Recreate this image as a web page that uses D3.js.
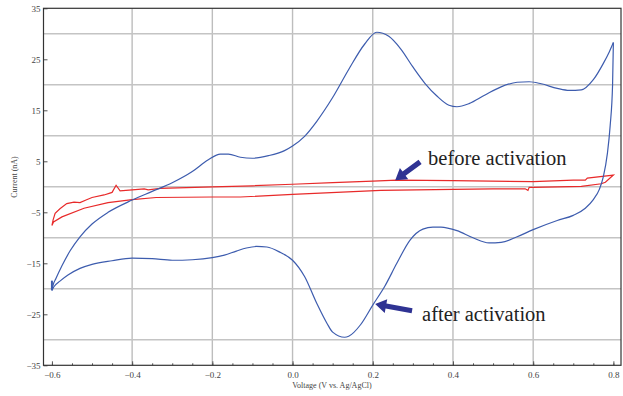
<!DOCTYPE html>
<meta charset="utf-8">
<script src="https://cdn.jsdelivr.net/npm/d3@7"></script>
<style>
    body { margin: 0; background: #fff; }
    text { font-family: "Liberation Serif", "DejaVu Serif", serif; }
</style>
<div id="chart"></div>
<script>
    // after activation (blue): forward scan -0.6 -> 0.8
    var blueFwdV = [-0.6, -0.598, -0.59, -0.575, -0.555, -0.53, -0.5, -0.46, -0.4, -0.35, -0.3, -0.25, -0.21, -0.18, -0.16, -0.13, -0.1, -0.06, -0.02, 0.0, 0.03, 0.06, 0.1, 0.14, 0.18, 0.21, 0.24, 0.27, 0.3, 0.33, 0.36, 0.39, 0.41, 0.44, 0.48, 0.52, 0.56, 0.59, 0.62, 0.66, 0.69, 0.72, 0.75, 0.775, 0.79, 0.8];
    var blueFwdI = [-20.3, -19.5, -18.0, -15.5, -12.6, -9.8, -7.3, -5.0, -2.6, -0.9, 0.8, 3.0, 5.3, 6.4, 6.4, 5.8, 5.6, 6.1, 7.1, 8.0, 9.9, 12.8, 17.5, 23.0, 28.0, 30.3, 29.5, 27.0, 23.5, 20.3, 17.8, 16.0, 15.7, 16.3, 18.0, 19.6, 20.5, 20.6, 20.2, 19.3, 18.9, 19.0, 21.0, 24.2, 26.5, 28.3];
    // after activation (blue): reverse scan 0.8 -> -0.6
    var blueRevV = [0.8, 0.798, 0.792, 0.785, 0.775, 0.765, 0.75, 0.73, 0.7, 0.66, 0.6, 0.56, 0.52, 0.49, 0.45, 0.41, 0.37, 0.35, 0.325, 0.293, 0.26, 0.23, 0.2, 0.17, 0.14, 0.13, 0.1, 0.086, 0.06, 0.03, 0.0, -0.03, -0.064, -0.09, -0.115, -0.14, -0.17, -0.2, -0.25, -0.3, -0.35, -0.4, -0.45, -0.5, -0.53, -0.56, -0.58, -0.595, -0.6];
    var blueRevI = [28.3, 20.0, 12.0, 6.5, 2.0, -0.5, -2.5, -4.2, -5.6, -6.6, -8.4, -9.8, -10.9, -11.0, -10.0, -8.6, -7.9, -7.9, -8.3, -10.45, -15.0, -19.5, -23.2, -27.0, -29.3, -29.5, -28.5, -26.8, -22.8, -17.6, -14.4, -12.9, -11.8, -11.7, -12.0, -12.6, -13.4, -13.9, -14.3, -14.4, -14.1, -14.0, -14.5, -15.2, -16.0, -17.3, -18.5, -19.6, -20.3];
    // small vertical step where the scan closes at -0.6 V
    var blueEndV = [-0.6, -0.6];
    var blueEndI = [-20.3, -18.4];

    // before activation (red)
    var redV = [-0.6, -0.597, -0.592, -0.58, -0.563, -0.545, -0.53, -0.515, -0.5, -0.47, -0.45, -0.44, -0.43, -0.4, -0.37, -0.36, -0.33, -0.2, -0.1, 0.0, 0.1, 0.2, 0.26, 0.4, 0.6, 0.7, 0.73, 0.735, 0.8,
        0.78, 0.77, 0.72, 0.6, 0.59, 0.587, 0.58, 0.5, 0.4, 0.22, 0.0, -0.13, -0.2, -0.34, -0.4, -0.46, -0.52, -0.575, -0.596, -0.6];
    var redI = [-7.6, -6.5, -5.2, -4.3, -3.3, -3.0, -3.1, -2.6, -2.1, -1.6, -1.1, 0.3, -0.8, -0.6, -0.4, -0.6, -0.3, 0.0, 0.2, 0.5, 0.8, 1.1, 1.3, 1.2, 1.0, 1.3, 1.3, 1.7, 2.3,
        0.9, 0.6, 0.1, -0.1, -0.1, -0.7, -0.4, -0.4, -0.5, -0.7, -1.5, -2.0, -2.0, -2.1, -2.5, -3.1, -4.2, -5.9, -6.9, -7.6];

    var xTicks = [-0.6, -0.4, -0.2, 0.0, 0.2, 0.4, 0.6, 0.8];
    var xMinor = d3.range(-0.6, 0.801, 0.05);
    var yTicks = [-35, -25, -15, -5, 5, 15, 25, 35];
    var xGrid = [-0.4, -0.2, 0.0, 0.2, 0.4, 0.6];
    var yGrid = [-30, -20, -10, 0, 10, 20, 30];

    var W = 623, H = 396;

    var x = d3.scaleLinear().domain([-0.621, 0.819]).range([43.5, 621]);
    var y = d3.scaleLinear().domain([-35, 35]).range([365.3, 8.3]);

    var svg = d3.select("#chart").append("svg")
        .attr("width", W)
        .attr("height", H);

    // grid
    svg.append("g").selectAll("line").data(xGrid).enter().append("line")
        .attr("x1", d => x(d)).attr("x2", d => x(d))
        .attr("y1", y(35)).attr("y2", y(-35))
        .attr("stroke", "#bdbdbd").attr("stroke-width", 1.4);
    svg.append("g").selectAll("line").data(yGrid).enter().append("line")
        .attr("x1", x.range()[0]).attr("x2", x.range()[1])
        .attr("y1", d => y(d)).attr("y2", d => y(d))
        .attr("stroke", "#c4c4c4").attr("stroke-width", 1.4);

    // curves
    var zip = (a, b) => a.map((v, i) => [v, b[i]]);
    var line = d3.line()
        .x(d => x(d[0]))
        .y(d => y(d[1]));

    svg.append("path")
        .datum(zip(redV, redI))
        .attr("d", line.curve(d3.curveLinear))
        .attr("fill", "none")
        .attr("stroke", "#e82a2a")
        .attr("stroke-width", 1.2);

    [zip(blueFwdV, blueFwdI), zip(blueRevV, blueRevI)].forEach(function(pts) {
        svg.append("path")
            .datum(pts)
            .attr("d", line.curve(d3.curveMonotoneX))
            .attr("fill", "none")
            .attr("stroke", "#3d5cae")
            .attr("stroke-width", 1.2);
    });
    svg.append("path")
        .datum(zip(blueEndV, blueEndI))
        .attr("d", line.curve(d3.curveLinear))
        .attr("fill", "none")
        .attr("stroke", "#3d5cae")
        .attr("stroke-width", 2);

    // axes
    var gx = svg.append("g")
        .attr("transform", "translate(0," + y(-35) + ")")
        .call(d3.axisBottom(x).tickValues(xMinor).tickSize(-2).tickFormat(""));
    gx.select(".domain").remove();
    gx.selectAll("line").attr("stroke", "#555");

    var gx2 = svg.append("g")
        .attr("transform", "translate(0," + y(-35) + ")")
        .call(d3.axisBottom(x).tickValues(xTicks).tickSize(-4).tickPadding(6)
            .tickFormat(d3.format(".1f")));
    gx2.select(".domain").remove();
    gx2.selectAll("line").attr("stroke", "#555");
    gx2.selectAll("text").attr("font-size", 9).attr("fill", "#444")
        .attr("font-family", "Liberation Serif");

    var gy = svg.append("g")
        .attr("transform", "translate(" + x.range()[0] + ",0)")
        .call(d3.axisLeft(y).tickValues(yTicks).tickSize(-4).tickPadding(3)
            .tickFormat(d3.format("d")));
    gy.select(".domain").remove();
    gy.selectAll("line").attr("stroke", "#555");
    gy.selectAll("text").attr("font-size", 9).attr("fill", "#444")
        .attr("font-family", "Liberation Serif");

    // frame
    svg.append("rect")
        .attr("x", x.range()[0]).attr("y", y(35))
        .attr("width", x.range()[1] - x.range()[0])
        .attr("height", y(-35) - y(35))
        .attr("fill", "none")
        .attr("stroke", "#333")
        .attr("stroke-width", 1.2);

    // axis titles
    svg.append("text")
        .attr("x", 332).attr("y", 388)
        .attr("text-anchor", "middle")
        .attr("font-size", 8).attr("fill", "#444")
        .text("Voltage (V vs. Ag/AgCl)");
    svg.append("text")
        .attr("transform", "translate(17,177) rotate(-90)")
        .attr("text-anchor", "middle")
        .attr("font-size", 8).attr("fill", "#444")
        .text("Current (nA)");

    // annotations
    function arrow(x0, y0, x1, y1) {
        var dx = x1 - x0, dy = y1 - y0, len = Math.sqrt(dx * dx + dy * dy);
        var ux = dx / len, uy = dy / len, px = -uy, py = ux;
        var hl = 11, hw = 7, sw = 2.6;
        var bx = x1 - ux * hl, by = y1 - uy * hl;
        var pts = [
            [x0 + px * sw, y0 + py * sw],
            [bx + px * sw, by + py * sw],
            [bx + px * hw, by + py * hw],
            [x1, y1],
            [bx - px * hw, by - py * hw],
            [bx - px * sw, by - py * sw],
            [x0 - px * sw, y0 - py * sw]
        ];
        svg.append("path")
            .attr("d", "M" + pts.map(p => p.join(",")).join("L") + "Z")
            .attr("fill", "#2f3393");
    }
    arrow(x(0.318), y(4.9), x(0.256), y(1.3));
    arrow(x(0.298), y(-24.3), x(0.206), y(-23.0));

    svg.append("text")
        .attr("x", x(0.338)).attr("y", y(4.25))
        .attr("font-size", 20.5).attr("fill", "#222")
        .text("before activation");
    svg.append("text")
        .attr("x", x(0.323)).attr("y", y(-26.3))
        .attr("font-size", 20.5).attr("fill", "#222")
        .text("after activation");
</script>
